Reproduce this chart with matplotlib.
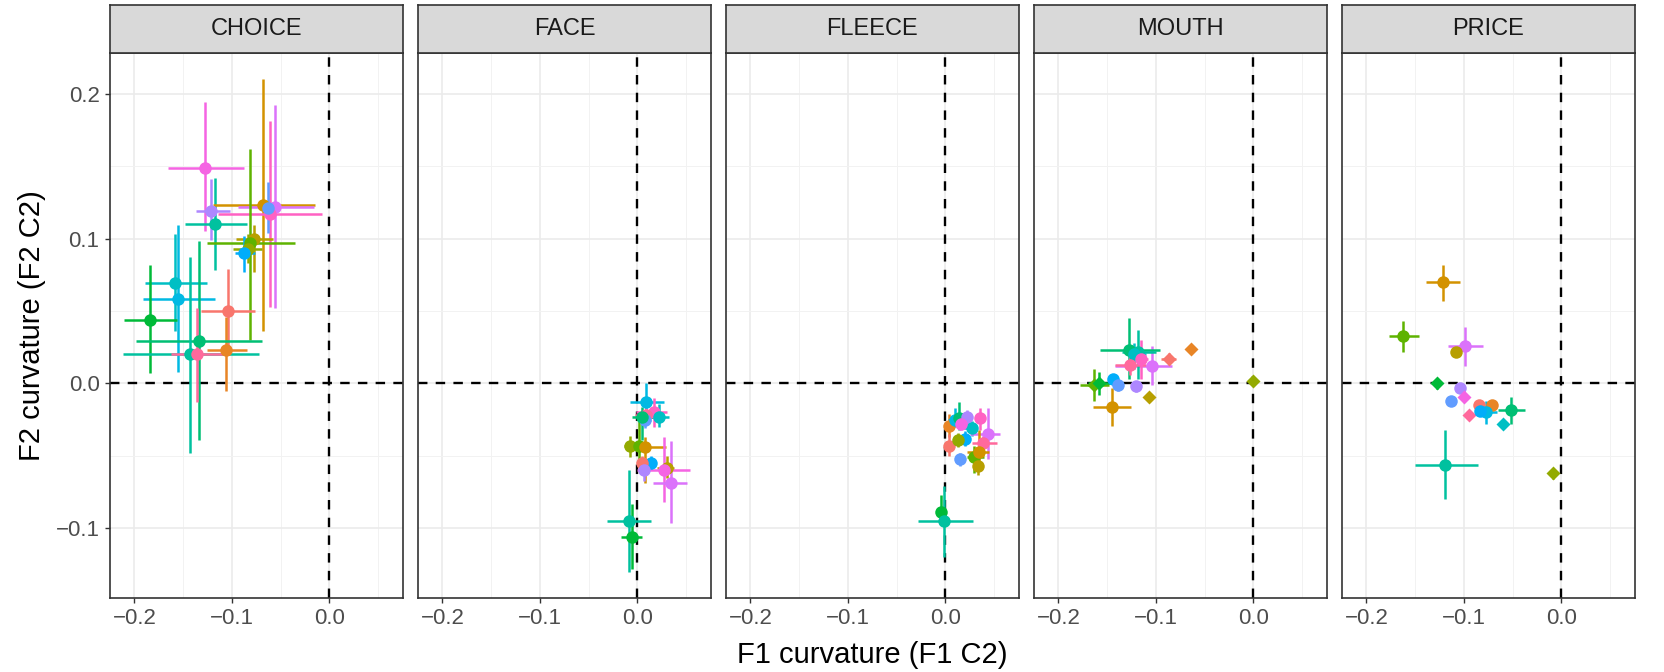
import numpy as np
import pandas as pd
import matplotlib
matplotlib.use('Agg')
import matplotlib.pyplot as plt

plt.rcParams['font.family'] = ['Liberation Sans', 'DejaVu Sans']

# facets
panels = ['CHOICE', 'FACE', 'FLEECE', 'MOUTH', 'PRICE']

# one row per speaker/point: facet, colour group, shape, estimate and interval
panel = (['CHOICE'] * 19 + ['FACE'] * 17 + ['FLEECE'] * 18 +
         ['MOUTH'] * 16 + ['PRICE'] * 17)
group = [15, 13, 8, 2, 14, 16, 3, 5, 4, 11, 9, 10, 6, 0, 1, 7, 8, 17, 12,
         10, 16, 9, 17, 12, 7, 4, 5, 2, 11, 0, 13, 3, 15, 14, 8, 6,
         1, 0, 10, 7, 13, 9, 11, 4, 16, 14, 17, 12, 5, 2, 3, 6, 8, 15,
         1, 4, 3, 0, 14, 7, 8, 9, 17, 16, 11, 12, 13, 5, 6, 2,
         2, 5, 14, 3, 6, 13, 12, 15, 0, 1, 17, 10, 9, 11, 7, 8, 4]
shape = (['o'] * 19 + ['o'] * 17 + ['o'] * 18 +
         ['D', 'D', 'D', 'D', 'o', 'o', 'o', 'o', 'o', 'o', 'o', 'o', 'o', 'D', 'D', 'o'] +
         ['o', 'o', 'o', 'o', 'D', 'o', 'o', 'D', 'o', 'o', 'D', 'o', 'D', 'o', 'o', 'o', 'D'])
f1 = [-0.128, -0.121, -0.117, -0.068, -0.056, -0.061, -0.077, -0.081, -0.083, -0.088,
      -0.158, -0.155, -0.184, -0.104, -0.106, -0.134, -0.143, -0.136, -0.063,
      0.009, 0.017, 0.022, 0.009, 0.008, 0.005, -0.008, 0.002, 0.008, 0.014, 0.005,
      0.007, 0.030, 0.027, 0.034, -0.009, -0.006,
      0.004, 0.004, 0.010, 0.014, 0.022, 0.027, 0.020, 0.013, 0.036, 0.044, 0.039,
      0.015, 0.029, 0.034, 0.033, -0.005, -0.001, 0.016,
      -0.064, 0.000, -0.107, -0.087, -0.104, -0.128, -0.118, -0.122, -0.127, -0.115,
      -0.144, -0.139, -0.120, -0.163, -0.158, -0.145,
      -0.121, -0.162, -0.099, -0.108, -0.128, -0.104, -0.113, -0.100, -0.084, -0.071,
      -0.095, -0.077, -0.060, -0.083, -0.052, -0.119, -0.009]
f2 = [0.149, 0.119, 0.110, 0.123, 0.122, 0.117, 0.100, 0.097, 0.093, 0.090,
      0.069, 0.058, 0.044, 0.050, 0.023, 0.029, 0.020, 0.020, 0.121,
      -0.013, -0.020, -0.023, -0.022, -0.025, -0.023, -0.043, -0.043, -0.044, -0.055,
      -0.055, -0.060, -0.058, -0.060, -0.069, -0.095, -0.106,
      -0.029, -0.043, -0.025, -0.024, -0.023, -0.031, -0.038, -0.039, -0.024, -0.035,
      -0.041, -0.052, -0.051, -0.047, -0.057, -0.089, -0.095, -0.028,
      0.024, 0.0016, -0.009, 0.017, 0.012, 0.023, 0.022, 0.020, 0.013, 0.017,
      0.003, -0.001, -0.002, -0.001, 0.0005, -0.016,
      0.070, 0.033, 0.026, 0.022, 0.000, -0.003, -0.012, -0.009, -0.015, -0.015,
      -0.022, -0.020, -0.028, -0.019, -0.018, -0.056, -0.062]
f1_lo = [-0.166, -0.137, -0.148, -0.119, -0.094, -0.114, -0.096, -0.126, -0.099, -0.097,
         -0.189, -0.191, -0.211, -0.132, -0.126, -0.198, -0.212, -0.162, -0.068,
         -0.008, -0.001, 0.010, -0.002, 0.002, -0.006, -0.014, -0.011, -0.002, 0.010, 0.001,
         0.004, 0.020, 0.000, 0.016, -0.031, -0.017,
         0.001, 0.001, 0.003, 0.010, 0.018, 0.018, 0.016, 0.008, 0.032, 0.025, 0.027,
         0.012, 0.022, 0.022, 0.029, -0.008, -0.028, 0.006,
         -0.067, -0.003, -0.110, -0.095, -0.142, -0.157, -0.135, -0.130, -0.142, -0.122,
         -0.148, -0.143, -0.124, -0.178, -0.170, -0.164,
         -0.139, -0.177, -0.116, -0.110, -0.132, -0.106, -0.115, -0.103, -0.087, -0.074,
         -0.098, -0.087, -0.063, -0.088, -0.065, -0.150, -0.011]
f1_hi = [-0.088, -0.102, -0.085, -0.015, -0.016, -0.008, -0.058, -0.035, -0.069, -0.076,
         -0.126, -0.117, -0.156, -0.076, -0.085, -0.069, -0.072, -0.108, -0.058,
         0.027, 0.030, 0.032, 0.021, 0.014, 0.025, -0.002, 0.012, 0.029, 0.018, 0.011,
         0.010, 0.038, 0.054, 0.051, 0.014, 0.005,
         0.007, 0.008, 0.018, 0.018, 0.026, 0.032, 0.024, 0.018, 0.040, 0.056, 0.053,
         0.018, 0.040, 0.045, 0.037, -0.002, 0.028, 0.026,
         -0.061, 0.003, -0.104, -0.079, -0.083, -0.096, -0.100, -0.110, -0.110, -0.108,
         -0.140, -0.135, -0.116, -0.148, -0.146, -0.126,
         -0.104, -0.146, -0.080, -0.106, -0.124, -0.102, -0.111, -0.097, -0.081, -0.068,
         -0.092, -0.066, -0.057, -0.078, -0.037, -0.086, -0.007]
f2_lo = [0.105, 0.099, 0.078, 0.036, 0.052, 0.053, 0.077, 0.030, 0.083, 0.077,
         0.036, 0.008, 0.007, 0.021, -0.005, -0.039, -0.048, -0.013, 0.104,
         -0.018, -0.030, -0.030, -0.027, -0.031, -0.039, -0.051, -0.056, -0.069, -0.060,
         -0.060, -0.067, -0.065, -0.082, -0.096, -0.130, -0.128,
         -0.037, -0.050, -0.030, -0.032, -0.028, -0.036, -0.043, -0.044, -0.032, -0.052,
         -0.046, -0.057, -0.062, -0.060, -0.063, -0.097, -0.120, -0.032,
         0.022, -0.001, -0.012, 0.013, -0.001, 0.003, 0.003, 0.010, 0.006, 0.003,
         -0.001, -0.005, -0.006, -0.012, -0.008, -0.029,
         0.057, 0.022, 0.012, 0.020, -0.004, -0.005, -0.014, -0.012, -0.018, -0.018,
         -0.025, -0.028, -0.031, -0.021, -0.028, -0.080, -0.066]
f2_hi = [0.194, 0.141, 0.142, 0.210, 0.192, 0.181, 0.109, 0.162, 0.103, 0.102,
         0.103, 0.109, 0.082, 0.079, 0.046, 0.098, 0.087, 0.052, 0.139,
         0.000, -0.010, -0.014, -0.017, -0.019, -0.016, -0.036, -0.025, -0.037, -0.050,
         -0.050, -0.053, -0.050, -0.037, -0.040, -0.060, -0.083,
         -0.021, -0.035, -0.017, -0.013, -0.018, -0.026, -0.033, -0.034, -0.017, -0.017,
         -0.036, -0.048, -0.043, -0.032, -0.051, -0.077, -0.071, -0.024,
         0.026, 0.004, -0.006, 0.021, 0.026, 0.045, 0.037, 0.028, 0.020, 0.030,
         0.006, 0.003, 0.002, 0.010, 0.008, -0.003,
         0.082, 0.043, 0.039, 0.024, 0.004, -0.001, -0.010, -0.006, -0.012, -0.012,
         -0.019, -0.012, -0.025, -0.017, -0.009, -0.032, -0.058]

x_ticks = [-0.2, -0.1, 0.0]
y_ticks = [-0.1, 0.0, 0.1, 0.2]

df = pd.DataFrame({'panel': panel, 'group': group, 'shape': shape,
                   'f1': f1, 'f2': f2, 'f1_lo': f1_lo, 'f1_hi': f1_hi,
                   'f2_lo': f2_lo, 'f2_hi': f2_hi})


def hue_pal(n, c=100, l=65):
    # ggplot2 default discrete palette (hcl colours)
    hues = np.linspace(15, 375 - 360 / n, n)
    xn, yn, zn = 95.047, 100.0, 108.883
    un = 4 * xn / (xn + 15 * yn + 3 * zn)
    vn = 9 * yn / (xn + 15 * yn + 3 * zn)
    out = []
    for h in hues:
        u = c * np.cos(np.radians(h)) / (13 * l) + un
        v = c * np.sin(np.radians(h)) / (13 * l) + vn
        Y = yn * ((l + 16) / 116) ** 3
        X = 9 * Y * u / (4 * v)
        Z = -X / 3 - 5 * Y + 3 * Y / v
        X, Y, Z = X / 100, Y / 100, Z / 100
        rgb = np.array([3.240479 * X - 1.537150 * Y - 0.498535 * Z,
                        -0.969256 * X + 1.875992 * Y + 0.041556 * Z,
                        0.055648 * X - 0.204043 * Y + 1.057311 * Z])
        rgb = np.where(rgb > 0.0031308, 1.055 * np.abs(rgb) ** (1 / 2.4) - 0.055, 12.92 * rgb)
        out.append(tuple(np.clip(rgb, 0, 1)))
    return out


cols = hue_pal(18)

W, H = 1665, 672
fig = plt.figure(figsize=(W / 100, H / 100), dpi=100)

left, pw, step = 110, 293, 308
top, bottom, strip_h = 53, 598, 48

for i, name in enumerate(panels):
    x0 = (left + i * step) / W
    ax = fig.add_axes([x0, 1 - bottom / H, pw / W, (bottom - top) / H])
    ax.set_xlim(-0.225, 0.0755)
    ax.set_ylim(-0.148, 0.228)
    ax.set_xticks(x_ticks)
    ax.set_yticks(y_ticks)
    ax.set_xticks([-0.15, -0.05, 0.05], minor=True)
    ax.set_yticks([-0.05, 0.05, 0.15], minor=True)
    ax.grid(which='major', color='#EBEBEB', lw=1.2)
    ax.grid(which='minor', color='#F2F2F2', lw=0.7)
    ax.set_axisbelow(True)
    for s in ax.spines.values():
        s.set_color('#333333')
        s.set_linewidth(1.2)
    ax.tick_params(which='major', length=3.5, color='#333333', labelsize=16,
                   labelcolor='#4D4D4D', width=1.0, pad=4)
    ax.tick_params(which='minor', length=0)
    if i > 0:
        ax.tick_params(axis='y', left=False, labelleft=False)

    ax.axhline(0, color='black', lw=1.7, ls=(0, (4, 3.5)), zorder=1)
    ax.axvline(0, color='black', lw=1.7, ls=(0, (4, 3.5)), zorder=1)

    d = df[df['panel'] == name]
    for _, r in d.iterrows():
        c = cols[r['group']]
        ax.errorbar(r['f1'], r['f2'],
                    xerr=[[r['f1'] - r['f1_lo']], [r['f1_hi'] - r['f1']]],
                    yerr=[[r['f2'] - r['f2_lo']], [r['f2_hi'] - r['f2']]],
                    fmt='none', ecolor=c, elinewidth=1.8, capsize=0, zorder=2)
    for _, r in d.iterrows():
        c = cols[r['group']]
        ms = 9 if r['shape'] == 'o' else 7.5
        ax.plot(r['f1'], r['f2'], marker=r['shape'], ms=ms, color=c,
                mec='none', zorder=3)

    sax = fig.add_axes([x0, 1 - top / H, pw / W, strip_h / H])
    sax.set_facecolor('#D9D9D9')
    sax.set_xticks([])
    sax.set_yticks([])
    for s in sax.spines.values():
        s.set_color('#333333')
        s.set_linewidth(1.2)
    sax.text(0.5, 0.5, name, ha='center', va='center', fontsize=17,
             color='#1A1A1A', transform=sax.transAxes)

fig.text((left + 4 * step + pw + left) / 2 / W, 1 - 655 / H, 'F1 curvature (F1 C2)',
         ha='center', va='center', fontsize=21)
fig.text(32 / W, 1 - (top + bottom) / 2 / H, 'F2 curvature (F2 C2)',
         ha='center', va='center', rotation=90, fontsize=21)

fig.savefig('out.png', dpi=100)
